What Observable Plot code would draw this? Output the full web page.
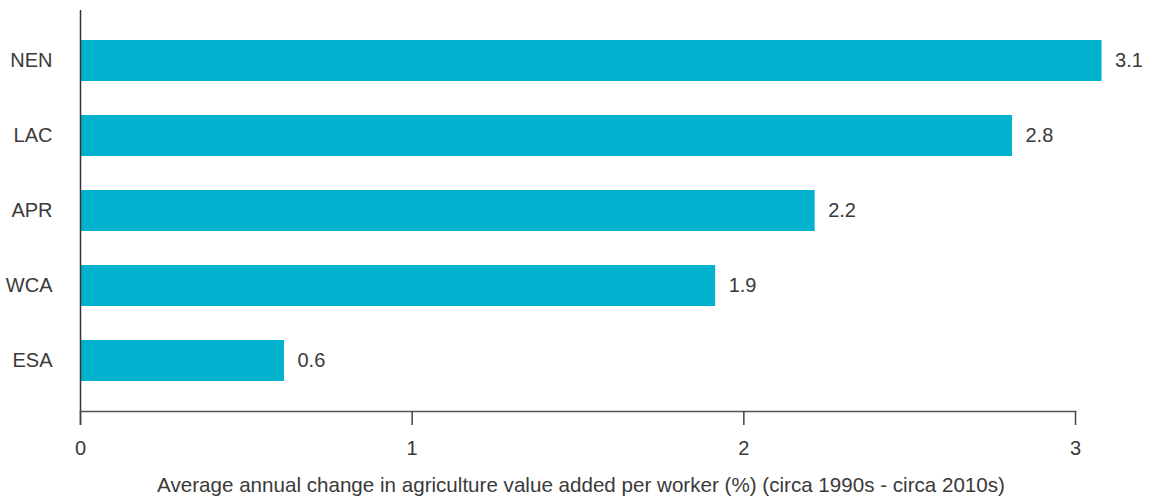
<!DOCTYPE html>
<html>
<head>
<meta charset="utf-8">
<script src="https://cdn.jsdelivr.net/npm/d3@7"></script>
<script src="https://cdn.jsdelivr.net/npm/@observablehq/plot@0.6"></script>
<style>
  html, body { margin: 0; padding: 0; background: #fff; }
  #chart svg { display: block; }
</style>
</head>
<body>
<div id="chart"></div>
<script>
const regions = ["NEN", "LAC", "APR", "WCA", "ESA"];
const values = [3.08, 2.81, 2.215, 1.915, 0.615];
const valueLabels = ["3.1", "2.8", "2.2", "1.9", "0.6"];
const xTicks = [0, 1, 2, 3];
const xTitle = "Average annual change in agriculture value added per worker (%) (circa 1990s - circa 2010s)";

const data = regions.map((r, i) => ({region: r, value: values[i], label: valueLabels[i]}));

const font = "'Liberation Sans', Arial, sans-serif";
const ink = "#3a3a3a";

const chart = Plot.plot({
  width: 1158,
  height: 500,
  marginLeft: 80,
  marginRight: 83,
  marginTop: 10,
  marginBottom: 89,
  style: {fontFamily: font, fontSize: "20px", color: ink, background: "#fff"},
  x: {domain: [0, 3]},
  y: {domain: regions, paddingInner: 0.46, paddingOuter: 0.37},
  marks: [
    Plot.barX(data, {x: "value", y: "region", fill: "#00b2cd"}),
    Plot.text(data, {x: "value", y: "region", text: "label", textAnchor: "start", dx: 13, fill: ink, fontSize: 20}),
    Plot.ruleX([0], {stroke: "#333", strokeWidth: 1.5, insetBottom: -14}),
    Plot.frame({anchor: "bottom", stroke: "#555", strokeWidth: 1.5}),
    Plot.axisY({tickSize: 0, tickPadding: 28, fontSize: 20, fill: ink, label: null}),
    Plot.axisX({ticks: xTicks, tickSize: 14, tickPadding: 15, stroke: "#444", strokeWidth: 1.5, fontSize: 20, fill: ink,
      label: xTitle, labelAnchor: "center", labelArrow: "none", labelOffset: 80, tickFormat: d => String(d)})
  ]
});
// slightly wider axis title to match reference
chart.querySelectorAll("text").forEach(t => {
  if (t.textContent === xTitle) {
    t.setAttribute("font-size", "20.6");
    t.setAttribute("dx", "3");
  }
});
document.getElementById("chart").appendChild(chart);
</script>
</body>
</html>
